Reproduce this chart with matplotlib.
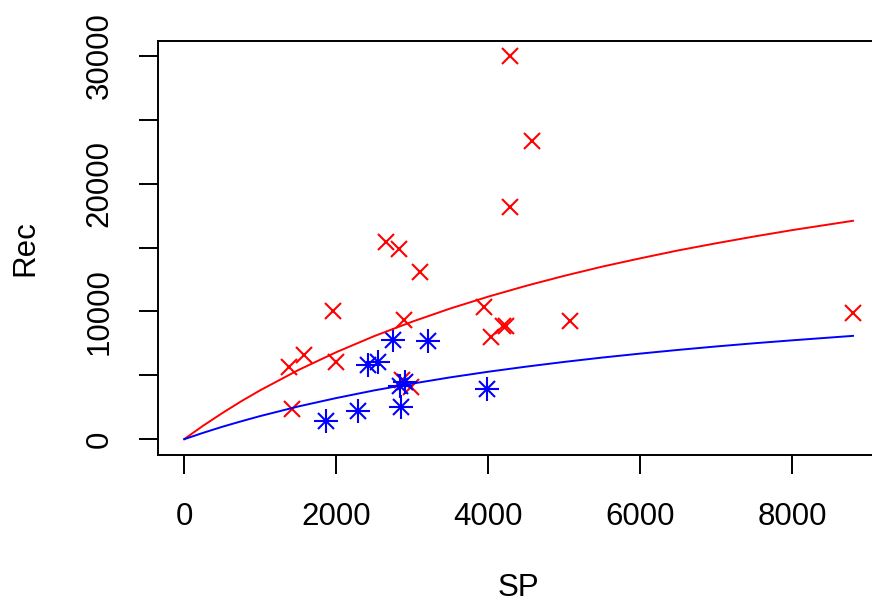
import matplotlib.pyplot as plt
import numpy as np

plt.rcParams['font.family'] = ['Liberation Sans', 'DejaVu Sans']

# spawners / recruits, two stock groups
sp_red = [4290, 4580, 4290, 2660, 2830, 3105, 1960, 3950, 2895, 4190, 4240,
          4030, 5070, 8800, 1580, 1380, 2000, 1420, 2860, 2990]
rec_red = [30000, 23350, 18170, 15430, 14880, 13080, 10030, 10340, 9320, 8850,
           8900, 7990, 9240, 9870, 6580, 5640, 6030, 2350, 4620, 4070]

sp_blue = [1870, 2290, 2855, 3990, 2840, 2910, 2420, 2550, 2750, 3210]
rec_blue = [1410, 2190, 2510, 3920, 4150, 4460, 5790, 6050, 7760, 7680]

# fitted stock-recruit curves
sp_fit = [0, 100, 250, 500, 750, 1000, 1500, 2000, 2500, 3000, 3500, 4000,
          4500, 5000, 5500, 6000, 6500, 7000, 7500, 8000, 8800]
rec_fit_red = [0, 430, 1060, 2040, 2970, 3830, 5410, 6810, 8070, 9200, 10230,
               11160, 12010, 12790, 13510, 14160, 14780, 15340, 15870, 16370,
               17100]
rec_fit_blue = [0, 200, 500, 970, 1400, 1810, 2560, 3220, 3820, 4350, 4840,
                5280, 5680, 6050, 6390, 6700, 6990, 7260, 7510, 7740, 8090]

fig = plt.figure(figsize=(8.72, 6.03), dpi=100)
ax = fig.add_axes([157.5 / 872, 148.5 / 603, 722.5 / 872, 413.8 / 603])

ax.plot(sp_red, rec_red, linestyle='none', marker='x', color='#ff0000',
        markersize=11.5, markeredgewidth=1.5)
ax.plot(sp_blue, rec_blue, linestyle='none', marker='x', color='#0000ff',
        markersize=12, markeredgewidth=1.5)
ax.plot(sp_blue, rec_blue, linestyle='none', marker='+', color='#0000ff',
        markersize=17, markeredgewidth=1.5)
ax.plot(sp_fit, rec_fit_red, color='#ff0000', linewidth=1.4)
ax.plot(sp_fit, rec_fit_blue, color='#0000ff', linewidth=1.4)

ax.set_xlim(-352, 9155)
ax.set_ylim(-1200, 31200)

xt = [0, 2000, 4000, 6000, 8000]
yt = [0, 5000, 10000, 15000, 20000, 25000, 30000]
ax.set_xticks(xt)
ax.set_xticklabels([str(v) for v in xt])
ax.set_yticks(yt)
ax.set_yticklabels([str(v) if v % 10000 == 0 else '' for v in yt],
                   rotation=90, va='center')

for s in ax.spines.values():
    s.set_linewidth(1.4)
ax.tick_params(axis='both', length=14, width=1.4, labelsize=22.5)
ax.tick_params(axis='x', pad=20)
ax.tick_params(axis='y', pad=17)

ax.set_xlabel('SP', fontsize=22.5, labelpad=30)
ax.set_ylabel('Rec', fontsize=22.5, labelpad=32)

fig.savefig('out.png', dpi=100)
